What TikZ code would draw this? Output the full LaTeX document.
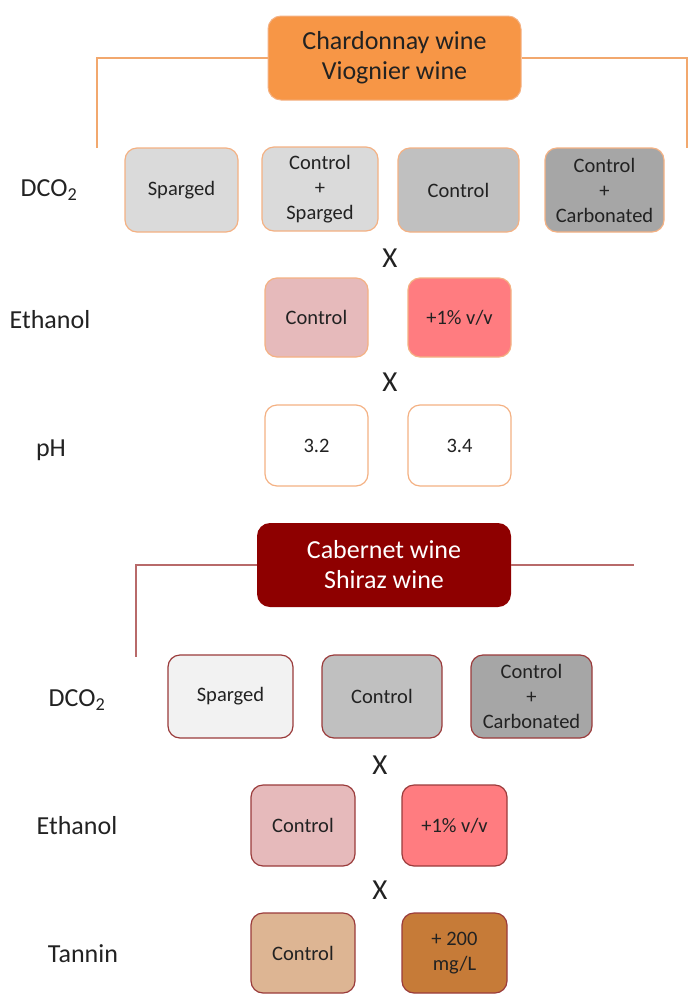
\documentclass[tikz,border=0pt]{standalone}
\usepackage{fontspec}
\setmainfont{Carlito}
\definecolor{orfill}{HTML}{F79646}
\definecolor{orline}{HTML}{F2A86E}
\definecolor{orbord}{HTML}{F4B183}
\definecolor{rdfill}{HTML}{8E0000}
\definecolor{rdline}{HTML}{B86A6A}
\definecolor{rdbord}{HTML}{9A3B3B}
\definecolor{g1}{HTML}{DADADA}
\definecolor{g2}{HTML}{C0C0C0}
\definecolor{g3}{HTML}{A6A6A6}
\definecolor{g0}{HTML}{F2F2F2}
\definecolor{pk}{HTML}{E6BABB}
\definecolor{pk2}{HTML}{FF7C80}
\definecolor{tan1}{HTML}{DDB593}
\definecolor{tan2}{HTML}{C67B38}
\definecolor{txt}{HTML}{222222}
\tikzset{
  box/.style={rectangle, rounded corners=12pt, line width=1.2pt, align=center,
    font=\fontsize{20.5}{25}\selectfont, inner sep=1pt, text=txt},
  obox/.style={box, draw=orbord},
  rbox/.style={box, draw=rdbord},
  title/.style={rectangle, rounded corners=13pt, align=center,
    font=\fontsize{26}{30}\selectfont},
  lbl/.style={font=\fontsize{26}{28}\selectfont, anchor=center, text=txt},
  cross/.style={font=\fontsize{29}{30}\selectfont, text=txt},
  conn/.style={line width=1.2pt}
}
\begin{document}
\begin{tikzpicture}[x=1pt,y=-1pt]
\useasboundingbox (0,0) rectangle (689,994);
% ---- top section
\node[title, fill=orfill, draw=orbord, line width=1pt, text=txt, minimum width=253pt, minimum height=84pt] (t1) at (394.5,58) {Chardonnay wine\\Viognier wine};
\coordinate (tl) at (97,148);
\coordinate (tr) at (687,148);
\draw[conn, orline] (t1.west) -| (tl);
\draw[conn, orline] (t1.east) -| (tr);
\node[lbl] (d1) at (49,190) {DCO\textsubscript{2}};
\node[obox, fill=g1, minimum width=113pt, minimum height=84pt] (a1) at (181.5,190) {Sparged};
\node[obox, fill=g1, minimum width=116pt, minimum height=84pt] (a2) at (320,189) {Control\\+\\Sparged};
\node[obox, fill=g2, minimum width=121pt, minimum height=84pt] (a3) at (458.5,190) {Control};
\node[obox, fill=g3, minimum width=119pt, minimum height=84pt] (a4) at (604.5,190) {Control\\+\\Carbonated};
\node[cross] (x1) at (390,258) {X};
\node[lbl] (e1) at (50,320) {Ethanol};
\node[obox, fill=pk, minimum width=103pt, minimum height=79pt] (b1) at (316.5,317.5) {Control};
\node[obox, fill=pk2, minimum width=103pt, minimum height=79pt] (b2) at (459.5,317.5) {+1\% v/v};
\node[cross] (x2) at (390,382) {X};
\node[lbl] (p1) at (51,450) {pH};
\node[obox, fill=white, minimum width=103pt, minimum height=81pt] (c1) at (316.5,445.5) {3.2};
\node[obox, fill=white, minimum width=103pt, minimum height=81pt] (c2) at (459.5,445.5) {3.4};
% ---- bottom section
\node[title, fill=rdfill, text=white, minimum width=254pt, minimum height=84pt] (t2) at (384,565) {Cabernet wine\\Shiraz wine};
\coordinate (bl) at (136,657);
\coordinate (br) at (634,565);
\draw[conn, rdline] (t2.west) -| (bl);
\draw[conn, rdline] (t2.east) -- (br);
\node[lbl] (d2) at (77,700) {DCO\textsubscript{2}};
\node[rbox, fill=g0, minimum width=125pt, minimum height=83pt] (f1) at (230.5,696.5) {Sparged};
\node[rbox, fill=g2, minimum width=120pt, minimum height=83pt] (f2) at (382,696.5) {Control};
\node[rbox, fill=g3, minimum width=121pt, minimum height=83pt] (f3) at (531.5,696.5) {Control\\+\\Carbonated};
\node[cross] (x3) at (380,765) {X};
\node[lbl] (e2) at (77,826) {Ethanol};
\node[rbox, fill=pk, minimum width=104pt, minimum height=81pt] (g1n) at (303,825.5) {Control};
\node[rbox, fill=pk2, minimum width=105pt, minimum height=81pt] (g2n) at (454.5,825.5) {+1\% v/v};
\node[cross] (x4) at (380,890) {X};
\node[lbl] (n2) at (83,954) {Tannin};
\node[rbox, fill=tan1, minimum width=104pt, minimum height=80pt] (h1) at (303,953) {Control};
\node[rbox, fill=tan2, minimum width=105pt, minimum height=80pt] (h2) at (454.5,953) {+ 200\\mg/L};
\end{tikzpicture}
\end{document}
